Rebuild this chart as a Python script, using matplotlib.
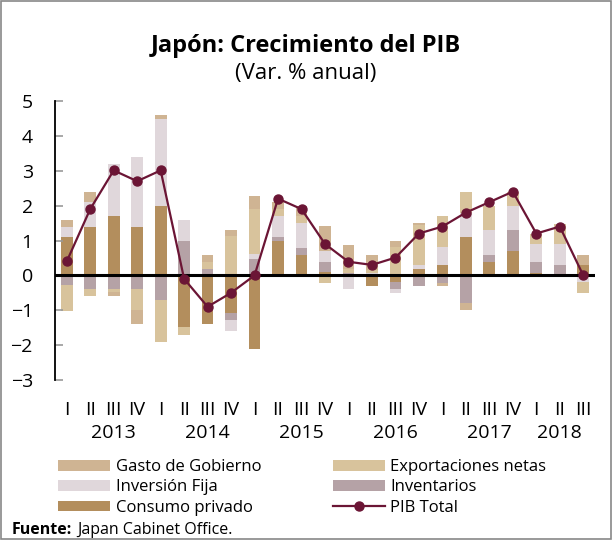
import numpy as np
import matplotlib
matplotlib.use("Agg")
import matplotlib.pyplot as plt
from matplotlib.patches import Rectangle

plt.rcParams['font.family'] = ['Open Sans', 'DejaVu Sans']

# trimestres 2013 Q1 - 2018 Q3
trimestres = ['I', 'II', 'III', 'IV'] * 5 + ['I', 'II', 'III']
anios = ['2013', '2014', '2015', '2016', '2017', '2018']
anio_pos = [2, 6, 10, 14, 18, 21]

# contribuciones (pp)
consumo = [1.10, 1.39, 1.70, 1.39, 1.99, -1.49, -1.39, -1.08, -2.11, 0.99, 0.58, 0.10,
           0.0, -0.30, -0.20, 0.17, 0.29, 1.10, 0.38, 0.69, 0.07, 0.0, 0.29]
inventarios = [-0.29, -0.40, -0.40, -0.40, -0.70, 0.99, 0.17, -0.21, 0.48, 0.11, 0.21, 0.29,
               0.08, 0.0, -0.20, -0.31, -0.21, -0.80, 0.21, 0.60, 0.31, 0.29, 0.0]
inversion = [0.29, 0.70, 1.49, 2.00, 2.50, 0.61, 0.0, -0.31, 0.12, 0.60, 0.71, 0.32,
             -0.40, 0.08, -0.10, 0.12, 0.52, 0.70, 0.70, 0.70, 0.52, 0.61, -0.20]
exportaciones = [-0.72, -0.20, -0.09, -0.60, -1.20, -0.21, 0.22, 1.12, 1.30, 0.19, 0.20, -0.21,
                 0.11, 0.07, 0.81, 1.15, 0.89, 0.60, 0.70, 0.40, 0.30, 0.58, -0.31]
gobierno = [0.21, 0.30, -0.11, -0.39, 0.11, 0.0, 0.20, 0.17, 0.39, 0.20, 0.29, 0.71,
            0.68, 0.44, 0.19, 0.06, -0.10, -0.20, -0.05, 0.0, 0.0, 0.0, 0.30]
pib = [0.40, 1.90, 3.01, 2.70, 3.01, -0.10, -0.90, -0.50, 0.0, 2.20, 1.90, 0.90,
       0.39, 0.30, 0.51, 1.20, 1.40, 1.80, 2.10, 2.40, 1.20, 1.40, 0.0]

series = [
    ('Consumo privado', consumo, '#b38e5d'),
    ('Inventarios', inventarios, '#b5a2a6'),
    ('Inversión Fija', inversion, '#e0d7db'),
    ('Exportaciones netas', exportaciones, '#d8c39c'),
    ('Gasto de Gobierno', gobierno, '#cfb493'),
]

fig = plt.figure(figsize=(6.12, 5.4), dpi=100)
ax = fig.add_axes([55 / 612, 160 / 540, 540 / 612, 279 / 540])

x = np.arange(len(pib))
pos_base = np.zeros(len(pib))
neg_base = np.zeros(len(pib))
handles = {}
for name, vals, col in series:
    v = np.array(vals)
    bottoms = np.where(v >= 0, pos_base, neg_base)
    handles[name] = ax.bar(x, v, 0.5, bottom=bottoms, color=col, label=name)
    pos_base = pos_base + np.where(v > 0, v, 0)
    neg_base = neg_base + np.where(v < 0, v, 0)

ax.axhline(0, color='black', lw=2.2, zorder=3)
line, = ax.plot(x, pib, color='#6b1535', lw=1.6, marker='o', markersize=6.5,
                zorder=4, label='PIB Total')

ax.set_xlim(-0.5, 22.5)
ax.set_ylim(-3, 5)
ax.set_yticks(range(-3, 6))
ax.tick_params(axis='y', direction='in', length=6, color='#999999', width=1.2,
               pad=16, labelsize=14)
ax.set_xticks(x, trimestres)
ax.tick_params(axis='x', length=0, pad=15, labelsize=14)
for s in ['top', 'right', 'bottom']:
    ax.spines[s].set_visible(False)
ax.spines['left'].set_linewidth(1.3)

# etiquetas de año debajo de los trimestres
for a, p in zip(anios, anio_pos):
    ax.annotate(a, xy=(p, 0), xycoords=('data', 'axes fraction'),
                xytext=(0, -32), textcoords='offset points',
                ha='center', va='top', fontsize=14)

fig.text(0.5, 0.915, 'Japón: Crecimiento del PIB', ha='center', va='center',
         fontsize=17, fontweight='bold')
fig.text(0.5, 0.864, '(Var. % anual)', ha='center', va='center', fontsize=16)

orden = ['Gasto de Gobierno', 'Inversión Fija', 'Consumo privado',
         'Exportaciones netas', 'Inventarios']
hs = [handles[n] for n in orden] + [line]
labs = orden + ['PIB Total']
fig.legend(hs, labs, ncol=2, loc='upper left', bbox_to_anchor=(50 / 612, 1 - 451 / 540),
           frameon=False, fontsize=12, handlelength=3.1, handleheight=0.6,
           columnspacing=4.3, labelspacing=0.25, handletextpad=0.35, borderpad=0)

# fuente: parte en negrita y resto normal, una tras otra
t1 = fig.text(12 / 612, 1 - 530 / 540, 'Fuente:', fontweight='bold', fontsize=11.5, va='center')
fig.canvas.draw()
bb = t1.get_window_extent()
fig.text((bb.x1 + 5) / 612, 1 - 530 / 540, 'Japan Cabinet Office.', fontsize=11.5, va='center')

fig.patches.append(Rectangle((0.002, 0.002), 0.996, 0.996, transform=fig.transFigure,
                             fill=False, edgecolor='#888888', lw=1.2))

fig.savefig('out.png', dpi=100)
